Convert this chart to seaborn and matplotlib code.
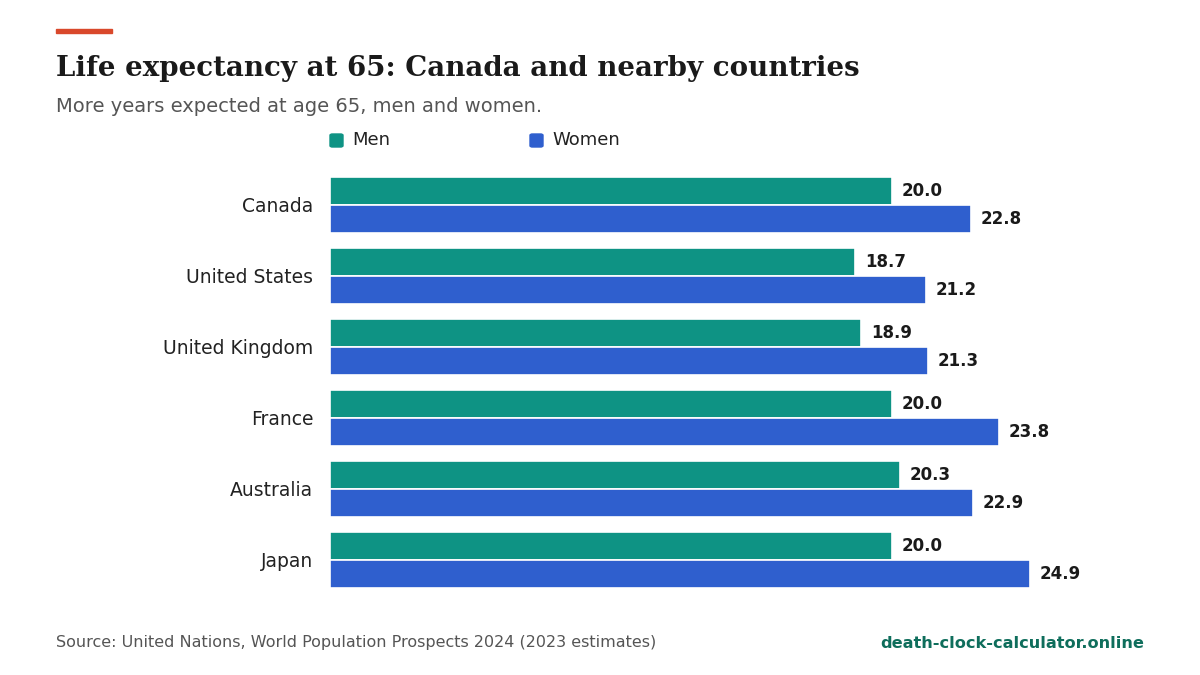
import matplotlib
matplotlib.use("Agg")
import matplotlib.pyplot as plt
import seaborn as sns
import pandas as pd
from matplotlib.patches import Rectangle, FancyBboxPatch

countries = ["Canada", "United States", "United Kingdom", "France", "Australia", "Japan"]
men = [20.0, 18.7, 18.9, 20.0, 20.3, 20.0]
women = [22.8, 21.2, 21.3, 23.8, 22.9, 24.9]
series = ["Men", "Women"]
colors = {"Men": "#0e9384", "Women": "#2f5fce"}

df = pd.DataFrame({"country": countries * 2, "sex": ["Men"] * 6 + ["Women"] * 6, "value": men + women})

sns.set_theme(style="white")
plt.rcParams['font.family'] = ['DejaVu Sans']
fig = plt.figure(figsize=(12, 6.75), dpi=100)
ax = fig.add_axes([0.275, 0.118, 0.70, 0.631])
sns.barplot(data=df, y="country", x="value", hue="sex", palette=colors, orient="h",
            width=0.78, ax=ax, legend=False, saturation=1)
ax.set_xlim(0, 29.9)
ax.set_ylim(5.5, -0.5)
for c in ax.containers:
    for bar in c:
        bar.set_edgecolor("white"); bar.set_linewidth(1.2)
    ax.bar_label(c, fmt="%.1f", padding=7, fontsize=12, fontweight="bold", color="#1a1a1a")
ax.set_xlabel(""); ax.set_ylabel("")
ax.set_xticks([])
ax.tick_params(axis="y", length=0, labelsize=13.5, pad=12, colors="#222222")
sns.despine(ax=ax, left=True, bottom=True)

fig.patches.append(Rectangle((56/1200, 1-33/675), 56/1200, 4/675, transform=fig.transFigure, color="#d9482b"))
fig.text(56/1200, 1-68/675, "Life expectancy at 65: Canada and nearby countries", family="DejaVu Serif",
         fontweight="bold", fontsize=19.9, va="center", color="#1a1a1a")
fig.text(56/1200, 1-106/675, "More years expected at age 65, men and women.", fontsize=14, va="center", color="#555555")
for lbl, x in zip(series, [330, 530]):
    fig.patches.append(FancyBboxPatch((x/1200, 1-147/675), 13/1200, 13/675, boxstyle="round,pad=0,rounding_size=0.002",
                                      transform=fig.transFigure, color=colors[lbl]))
    fig.text((x+22)/1200, 1-140/675, lbl, fontsize=13, va="center", color="#222222")
fig.text(56/1200, 1-643/675, "Source: United Nations, World Population Prospects 2024 (2023 estimates)",
         fontsize=11.5, va="center", color="#555555")
fig.text(1144/1200, 1-643/675, "death-clock-calculator.online", fontsize=11.6, fontweight="bold",
         va="center", ha="right", color="#0f6e5c")
fig.savefig("out.png", dpi=100, facecolor="white")
